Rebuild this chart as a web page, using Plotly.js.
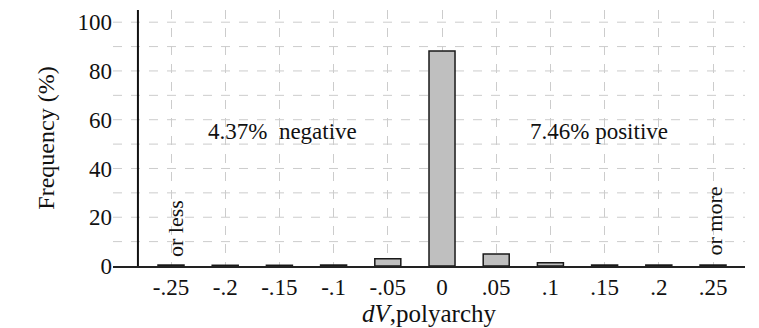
<!DOCTYPE html>
<html>
<head>
<meta charset="utf-8">
<script src="https://cdn.plot.ly/plotly-3.0.1.min.js"></script>
<style>html,body{margin:0;padding:0;background:#fff;}#chart{width:759px;height:328px;}</style>
</head>
<body>
<div id="chart"></div>
<script>
const binValues = [-0.25, -0.2, -0.15, -0.1, -0.05, 0, 0.05, 0.1, 0.15, 0.2, 0.25];
const tickLabels = ['-.25', '-.2', '-.15', '-.1', '-.05', '0', '.05', '.1', '.15', '.2', '.25'];
const frequency = [0.4, 0.3, 0.3, 0.4, 2.97, 88.17, 4.9, 1.36, 0.4, 0.4, 0.4];
const yTicks = [0, 20, 40, 60, 80, 100];
const negLabel = '4.37%  negative';
const posLabel = '7.46% positive';

const font = "'Liberation Serif', 'Times New Roman', serif";

const trace = {
  type: 'bar',
  x: binValues,
  y: frequency,
  width: 0.024,
  marker: {color: '#bfbfbf', line: {color: '#1a1a1a', width: 1.5}},
  hoverinfo: 'x+y'
};

const layout = {
  width: 759, height: 328,
  margin: {l: 113, r: 14, t: 10, b: 62},
  paper_bgcolor: '#fff', plot_bgcolor: '#fff',
  font: {family: font, size: 23, color: '#111'},
  showlegend: false,
  xaxis: {
    range: [-0.3035, 0.2795],
    tickvals: binValues, ticktext: tickLabels,
    showgrid: true, gridcolor: '#cccccc', griddash: 'dash', gridwidth: 1,
    showline: true, linecolor: '#222', linewidth: 1.5,
    zeroline: false, ticks: '',
    tickfont: {family: font, size: 23, color: '#111'},
    title: {text: '<i>dV</i>,polyarchy', font: {family: font, size: 25, color: '#111'}, standoff: 1}
  },
  yaxis: {
    range: [0, 105],
    tickvals: yTicks,
    showgrid: false,
    zeroline: false, showline: false, ticks: '',
    tickfont: {family: font, size: 23, color: '#111'},
    title: {text: 'Frequency (%)', font: {family: font, size: 24, color: '#111'}, standoff: 16}
  },
  shapes: [],
  annotations: [
    {x: -0.147, y: 55, xref: 'x', yref: 'y', text: negLabel, showarrow: false,
     font: {family: font, size: 23, color: '#111'}},
    {x: 0.145, y: 55, xref: 'x', yref: 'y', text: posLabel, showarrow: false,
     font: {family: font, size: 23, color: '#111'}},
    {x: -0.2465, y: 15.5, xref: 'x', yref: 'y', text: 'or less', textangle: -90, showarrow: false,
     font: {family: font, size: 22, color: '#111'}},
    {x: 0.2515, y: 18.5, xref: 'x', yref: 'y', text: 'or more', textangle: -90, showarrow: false,
     font: {family: font, size: 22, color: '#111'}}
  ]
};

// horizontal dashed gridlines every 10 (drawn across the whole plot width)
for (let v = 10; v <= 100; v += 10) {
  layout.shapes.push({type: 'line', xref: 'paper', yref: 'y', x0: 0, x1: 1, y0: v, y1: v,
    line: {color: '#cccccc', width: 1, dash: 'dash'}, layer: 'below'});
}
// vertical y-axis line
layout.shapes.push({type: 'line', xref: 'x', yref: 'paper', x0: -0.2805, x1: -0.2805, y0: 0, y1: 1,
  line: {color: '#111', width: 2}});

Plotly.newPlot('chart', [trace], layout, {displayModeBar: false, staticPlot: true});
</script>
</body>
</html>
